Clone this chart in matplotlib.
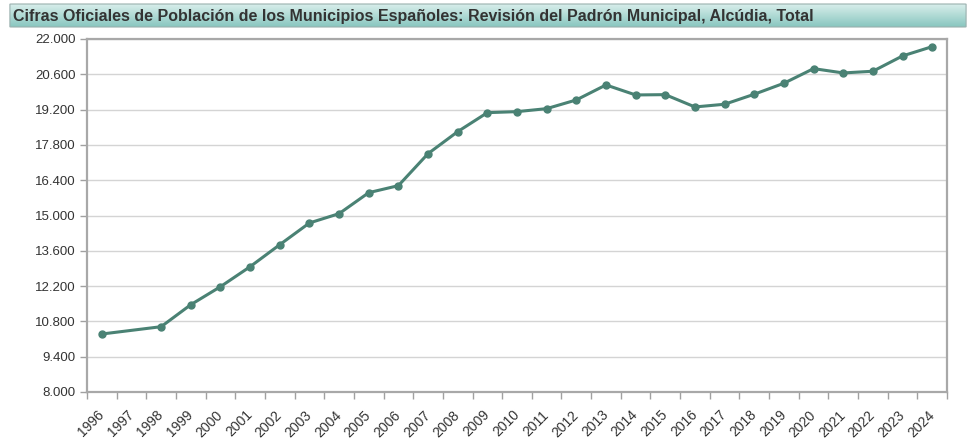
import numpy as np
import matplotlib.pyplot as plt
import matplotlib.transforms as mtransforms
from matplotlib.patches import FancyBboxPatch
from matplotlib.ticker import FuncFormatter

plt.rcParams["font.family"] = ["Liberation Sans", "DejaVu Sans"]

title = "Cifras Oficiales de Población de los Municipios Españoles: Revisión del Padrón Municipal, Alcúdia, Total"
years = [str(y) for y in range(1996, 2025)]
# 1997 has no figure in the series
population = [10300, None, 10590, 11463, 12177, 12970, 13843, 14704, 15073, 15906,
              16184, 17453, 18326, 19079, 19119, 19238, 19583, 20178, 19781, 19793,
              19305, 19412, 19809, 20245, 20825, 20654, 20721, 21328, 21697]
y_ticks = [8000, 9400, 10800, 12200, 13600, 15000, 16400, 17800, 19200, 20600, 22000]

line_color = "#4a8274"

fig = plt.figure(figsize=(9.75, 4.41), dpi=100)

# title bar with a soft vertical gradient
bar_ax = fig.add_axes([8/975, 1-28/441, 960/975, 25/441])
bar_ax.set_xlim(0, 1)
bar_ax.set_ylim(0, 1)
bar_ax.axis("off")
grad = np.linspace(0, 1, 64).reshape(-1, 1)
top_c = np.array([0.86, 0.94, 0.93])
bot_c = np.array([0.52, 0.77, 0.74])
img = top_c + (bot_c - top_c) * grad[..., None]
box = FancyBboxPatch((0.002, 0.04), 0.996, 0.92, boxstyle="round,pad=0,rounding_size=0.004",
                     transform=bar_ax.transAxes, facecolor="none", edgecolor="#9ab0ae", lw=0.8)
im = bar_ax.imshow(img, extent=[0, 1, 0, 1], aspect="auto", origin="upper")
bar_ax.add_patch(box)
im.set_clip_path(box)
bar_ax.text(0.005, 0.48, title, fontsize=11.5, fontweight="bold", color="#333333",
            va="center", ha="left", transform=bar_ax.transAxes)

ax = fig.add_axes([87/975, 1-392/441, 860/975, 353/441])
x = np.arange(len(years))
xs = [i for i, v in zip(x, population) if v is not None]
ys = [v for v in population if v is not None]
ax.plot(xs, ys, color=line_color, lw=2.2, marker="o", markersize=5, zorder=3)

ax.set_xlim(-0.5, len(years) - 0.5)
ax.set_ylim(8000, 22000)
ax.set_yticks(y_ticks)
ax.yaxis.set_major_formatter(FuncFormatter(lambda v, p: f"{int(v):,}".replace(",", ".")))
ax.set_xticks(x)
ax.set_xticklabels(years, rotation=45, ha="right", va="top")
ax.set_xticks(np.arange(-0.5, len(years), 1), minor=True)
ax.tick_params(axis="x", which="major", length=0, pad=7, labelsize=10, labelcolor="#333333")
ax.tick_params(axis="x", which="minor", length=5, color="#a0a0a0", width=1)
ax.tick_params(axis="y", length=5, color="#a0a0a0", width=1, labelsize=9.5,
               labelcolor="#333333", pad=3)
shift = mtransforms.ScaledTranslation(5/100, -6/100, fig.dpi_scale_trans)
for lbl in ax.get_xticklabels():
    lbl.set_transform(lbl.get_transform() + shift)
ax.grid(axis="y", color="#d4d4d4", lw=1)
ax.set_axisbelow(True)
for s in ax.spines.values():
    s.set_color("#a8a8a8")
    s.set_linewidth(1.6)

fig.savefig("out.png", dpi=100)
